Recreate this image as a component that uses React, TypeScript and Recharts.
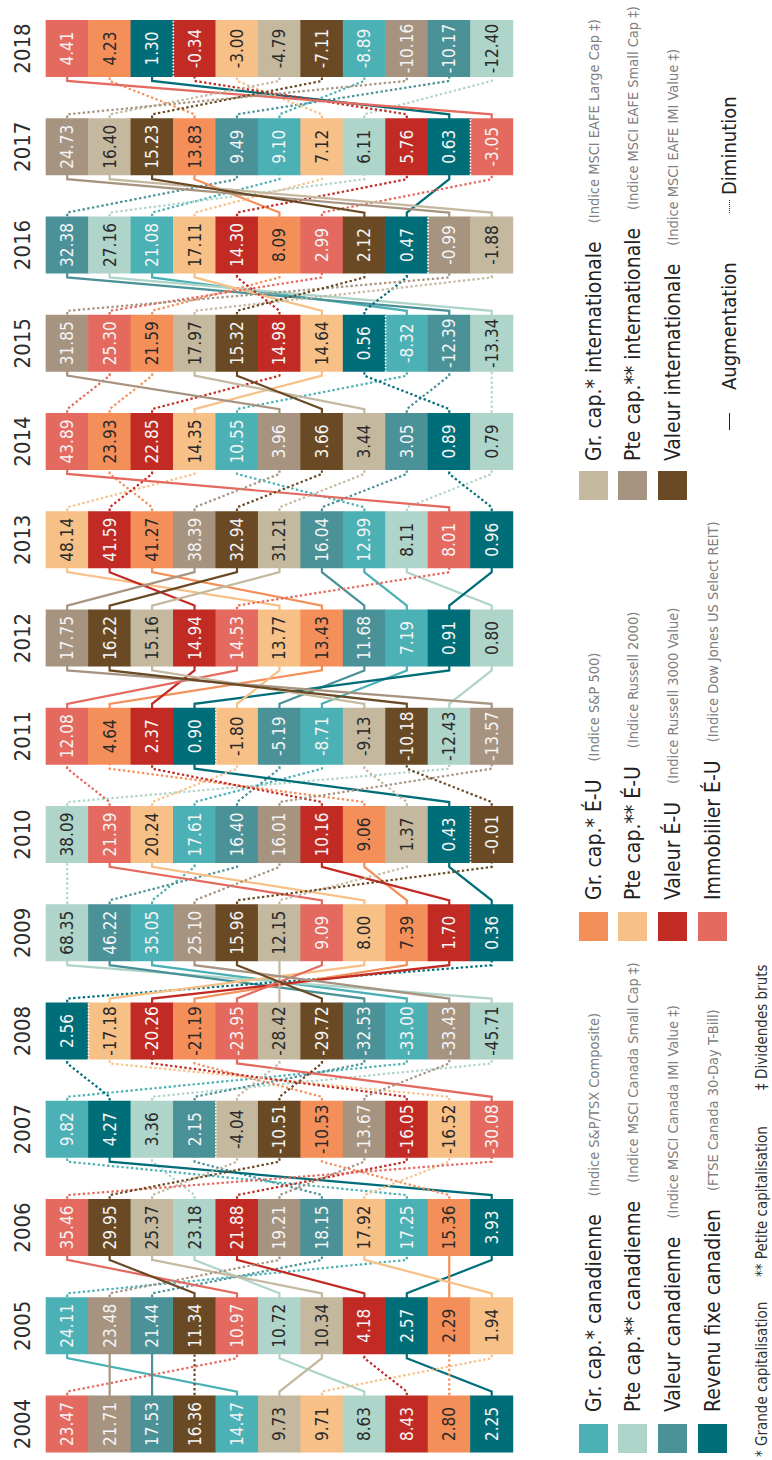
import React from 'react'
import { ComposedChart, Line, Scatter, XAxis, YAxis } from 'recharts'

const years = [2004, 2005, 2006, 2007, 2008, 2009, 2010, 2011, 2012, 2013, 2014, 2015, 2016, 2017, 2018]

// rendements annuels par catégorie, 2004 -> 2018
const grCapCan = [14.47, 24.11, 17.25, 9.82, -33.0, 35.05, 17.61, -8.71, 7.19, 12.99, 10.55, -8.32, 21.08, 9.1, -8.89]
const pteCapCan = [8.63, 10.72, 23.18, 3.36, -45.71, 68.35, 38.09, -12.43, 0.8, 8.11, 0.79, -13.34, 27.16, 6.11, -12.4]
const valeurCan = [17.53, 21.44, 18.15, 2.15, -32.53, 46.22, 16.4, -5.19, 11.68, 16.04, 3.05, -12.39, 32.38, 9.49, -10.17]
const revenuFixe = [2.25, 2.57, 3.93, 4.27, 2.56, 0.36, 0.43, 0.9, 0.91, 0.96, 0.89, 0.56, 0.47, 0.63, 1.3]
const grCapEU = [2.8, 2.29, 15.36, -10.53, -21.19, 7.39, 9.06, 4.64, 13.43, 41.27, 23.93, 21.59, 8.09, 13.83, 4.23]
const pteCapEU = [9.71, 1.94, 17.92, -16.52, -17.18, 8.0, 20.24, -1.8, 13.77, 48.14, 14.35, 14.64, 17.11, 7.12, -3.0]
const valeurEU = [8.43, 4.18, 21.88, -16.05, -20.26, 1.7, 10.16, 2.37, 14.94, 41.59, 22.85, 14.98, 14.3, 5.76, -0.34]
const immobEU = [23.47, 10.97, 35.46, -30.08, -23.95, 9.09, 21.39, 12.08, 14.53, 8.01, 43.89, 25.3, 2.99, -3.05, 4.41]
const grCapIntl = [9.73, 10.34, 25.37, -4.04, -28.42, 12.15, 1.37, -9.13, 15.16, 31.21, 3.44, 17.97, -1.88, 16.4, -4.79]
const pteCapIntl = [21.71, 23.48, 19.21, -13.67, -33.43, 25.1, 16.01, -13.57, 17.75, 38.39, 3.96, 31.85, -0.99, 24.73, -10.16]
const valeurIntl = [16.36, 11.34, 29.95, -10.51, -29.72, 15.96, -0.01, -10.18, 16.22, 32.94, 3.66, 15.32, 2.12, 15.23, -7.11]

const classes = [
  { key: 'gcCan', values: grCapCan, name: 'Gr. cap.* canadienne', sub: '(Indice S&P/TSX Composite)' },
  { key: 'pcCan', values: pteCapCan, name: 'Pte cap.** canadienne', sub: '(Indice MSCI Canada Small Cap ‡)' },
  { key: 'vCan', values: valeurCan, name: 'Valeur canadienne', sub: '(Indice MSCI Canada IMI Value ‡)' },
  { key: 'rf', values: revenuFixe, name: 'Revenu fixe canadien', sub: '(FTSE Canada 30-Day T-Bill)' },
  { key: 'gcEU', values: grCapEU, name: 'Gr. cap.* É-U', sub: '(Indice S&P 500)' },
  { key: 'pcEU', values: pteCapEU, name: 'Pte cap.** É-U', sub: '(Indice Russell 2000)' },
  { key: 'vEU', values: valeurEU, name: 'Valeur É-U', sub: '(Indice Russell 3000 Value)' },
  { key: 'immo', values: immobEU, name: 'Immobilier É-U', sub: '(Indice Dow Jones US Select REIT)' },
  { key: 'gcIntl', values: grCapIntl, name: 'Gr. cap.* internationale', sub: '(Indice MSCI EAFE Large Cap ‡)' },
  { key: 'pcIntl', values: pteCapIntl, name: 'Pte cap.** internationale', sub: '(Indice MSCI EAFE Small Cap ‡)' },
  { key: 'vIntl', values: valeurIntl, name: 'Valeur internationale', sub: '(Indice MSCI EAFE IMI Value ‡)' },
]

const colors: Record<string, string> = {
  gcCan: '#4bb1b5', pcCan: '#afd4c9', vCan: '#4a9198', rf: '#006e78',
  gcEU: '#f58f59', pcEU: '#f7c087', vEU: '#c22a24', immo: '#e4695f',
  gcIntl: '#c4b89f', pcIntl: '#a69380', vIntl: '#6a4a25',
}
const darkText = ['pcCan', 'gcEU', 'pcEU', 'gcIntl']

const FONT = "'Liberation Sans Narrow', 'DejaVu Sans Condensed', 'Roboto', sans-serif"
const CELL_W = 57
const CELL_H = 42.45
const W = 1460
const H = 772

// rang de chaque catégorie pour chaque année
const ranks: Record<string, number[]> = {}
classes.forEach(c => { ranks[c.key] = [] })
const cells: any[] = []
years.forEach((_, i) => {
  const sorted = [...classes].sort((a, b) => b.values[i] - a.values[i])
  const firstNeg = sorted.findIndex(c => c.values[i] < 0)
  sorted.forEach((c, r) => {
    ranks[c.key][i] = r
    cells.push({ x: i, y: r, value: c.values[i], cls: c.key, zeroTop: r === firstNeg && r > 0 })
  })
})

const segments: any[] = []
classes.forEach(c => {
  for (let i = 0; i < years.length - 1; i++) {
    const r0 = ranks[c.key][i]
    const r1 = ranks[c.key][i + 1]
    segments.push({
      id: `${c.key}-${i}`,
      cls: c.key,
      up: c.values[i + 1] > c.values[i],
      data: [
        { x: i, y: r0 },
        { x: i + 0.33, y: r0 },
        { x: i + 0.67, y: r1 },
        { x: i + 1, y: r1 },
      ],
    })
  }
})

const CellShape = (props: any) => {
  const { cx, cy } = props
  const p = props.payload ?? props
  const fill = colors[p.cls]
  const txt = darkText.includes(p.cls) ? '#2a2a2a' : '#f4f4f4'
  return (
    <g>
      <rect x={cx - CELL_W / 2} y={cy - CELL_H / 2 - 0.3} width={CELL_W} height={CELL_H + 0.6} fill={fill} />
      {p.zeroTop && (
        <line x1={cx - CELL_W / 2} x2={cx + CELL_W / 2} y1={cy - CELL_H / 2} y2={cy - CELL_H / 2}
          stroke="#fff" strokeWidth={1.6} strokeDasharray="1.6 1.6" />
      )}
      <text x={cx} y={cy} textAnchor="middle" dominantBaseline="central" fill={txt}
        fontSize={17} fontFamily={FONT}>{p.value.toFixed(2)}</text>
    </g>
  )
}

const YearTick = (props: any) => {
  const { x, y, payload } = props
  return (
    <text x={x} y={y - 45} textAnchor="middle" dominantBaseline="central" fill="#2d2d2d"
      fontSize={22} fontFamily={FONT}>{years[payload.value]}</text>
  )
}

const LegendRow = ({ item, left, top, gap }: any) => (
  <div style={{ position: 'absolute', left, top, height: 29, display: 'flex', alignItems: 'center', whiteSpace: 'nowrap', fontFamily: FONT }}>
    <div style={{ width: 29, height: 29, background: colors[item.key], marginRight: gap }} />
    <span style={{ fontSize: 21, color: '#222' }}>{item.name}</span>
    <span style={{ fontSize: 14.5, color: '#808080', marginLeft: 18 }}>{item.sub}</span>
  </div>
)

const rowTops = [579, 618, 658, 698]
const keyText = { position: 'absolute' as const, top: 716, height: 26, display: 'flex', alignItems: 'center', whiteSpace: 'nowrap' as const, fontFamily: FONT, fontSize: 20, color: '#222' }
const noteText = { position: 'absolute' as const, top: 0, lineHeight: '16px' }

export default function App() {
  return (
    <div style={{ position: 'absolute', left: 0, top: 0, width: H, height: W, overflow: 'hidden', background: '#fff' }}>
      <div style={{ position: 'absolute', left: 0, top: 0, width: W, height: H, transformOrigin: '0 0', transform: `translateY(${W}px) rotate(-90deg)` }}>
        <ComposedChart width={W} height={H} margin={{ top: 27.2, right: 48.5, bottom: 280.3, left: 36 }}>
          <XAxis dataKey="x" type="number" domain={[0, years.length - 1]} orientation="top" height={40}
            ticks={years.map((_, i) => i)} tick={<YearTick />} tickSize={0} tickMargin={0} axisLine={false} tickLine={false} />
          <YAxis dataKey="y" type="number" domain={[0, 10]} reversed hide />
          {segments.map(s => (
            <Line key={s.id} data={s.data} dataKey="y" type="linear" stroke={colors[s.cls]} strokeWidth={2.2}
              strokeDasharray={s.up ? undefined : '2.4 2.4'} dot={false} activeDot={false} isAnimationActive={false} />
          ))}
          <Scatter data={cells} shape={<CellShape />} isAnimationActive={false} />
        </ComposedChart>

        {classes.slice(0, 4).map((c, i) => <LegendRow key={c.key} item={c} left={7} top={rowTops[i]} gap={12} />)}
        {classes.slice(4, 8).map((c, i) => <LegendRow key={c.key} item={c} left={519} top={rowTops[i]} gap={12} />)}
        {classes.slice(8).map((c, i) => <LegendRow key={c.key} item={c} left={960} top={rowTops[i]} gap={10} />)}

        <div style={{ ...keyText, left: 1030 }}><div style={{ width: 17, borderTop: '1.6px solid #222' }} /></div>
        <div style={{ ...keyText, left: 1070 }}>Augmentation</div>
        <div style={{ ...keyText, left: 1247 }}><div style={{ width: 13, borderTop: '1.6px dotted #222' }} /></div>
        <div style={{ ...keyText, left: 1265 }}>Diminution</div>

        <div style={{ position: 'absolute', left: 3, top: 754, height: 16, whiteSpace: 'nowrap', fontFamily: FONT, fontSize: 15, color: '#333' }}>
          <span style={{ ...noteText, left: 0 }}>* Grande capitalisation</span>
          <span style={{ ...noteText, left: 180 }}>** Petite capitalisation</span>
          <span style={{ ...noteText, left: 367 }}>‡ Dividendes bruts</span>
        </div>
      </div>
    </div>
  )
}
